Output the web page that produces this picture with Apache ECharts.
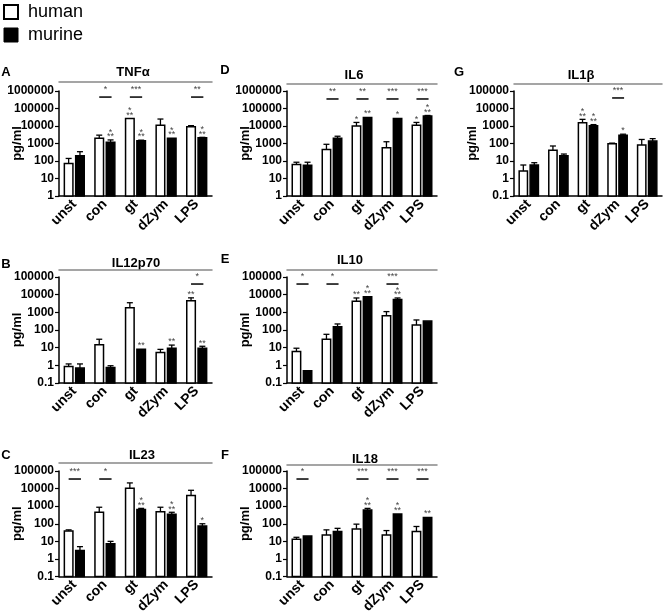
<!DOCTYPE html>
<html><head><meta charset="utf-8">
<script src="https://cdn.jsdelivr.net/npm/echarts@6/dist/echarts.min.js"></script>
<style>html,body{margin:0;padding:0;background:#fff}#c{width:667px;height:616px}</style>
</head><body><div id="c"></div><script>
const categories = ['unst', 'con', 'gt', 'dZym', 'LPS'];
const seriesNames = ['human', 'murine'];

// A TNFα
const tnfHuman = [73, 2000, 27000, 11000, 9000];
const tnfHumanErr = [140, 3000, 27000, 25000, 10500];
const tnfMurine = [200, 1170, 1450, 2000, 2100];
const tnfMurineErr = [340, 1600, 1550, 2100, 2250];
const tnfHumanStars = ['', '', '*\n**', '', ''];
const tnfMurineStars = ['', '*\n**', '*\n**', '*\n**', '*\n**'];
const tnfBrackets = ['', '*', '***', '', '**'];

// D IL6
const il6Human = [63, 460, 10000, 580, 11000];
const il6HumanErr = [85, 900, 16000, 1260, 16000];
const il6Murine = [57, 2000, 31000, 27000, 37000];
const il6MurineErr = [85, 2600, 33000, 28500, 40000];
const il6HumanStars = ['', '', '*', '', '*'];
const il6MurineStars = ['', '', '**', '*', '*\n**'];
const il6Brackets = ['', '**', '**', '***', '***'];

// G IL1β
const il1bHuman = [2.7, 41, 1550, 98, 82];
const il1bHumanErr = [5.9, 72, 2400, 105, 170];
const il1bMurine = [5.9, 20, 1050, 300, 137];
const il1bMurineErr = [8, 25, 1200, 340, 190];
const il1bHumanStars = ['', '', '*\n**', '', ''];
const il1bMurineStars = ['', '', '*\n**', '*', ''];
const il1bBrackets = ['', '', '', '***', ''];

// B IL12p70
const il12Human = [0.87, 14.4, 1800, 5.3, 4500];
const il12HumanErr = [1.2, 30, 3500, 8, 6600];
const il12Murine = [0.7, 0.76, 8.2, 9.3, 9.3];
const il12MurineErr = [1.2, 0.95, 8.6, 14, 12];
const il12HumanStars = ['', '', '', '', '**'];
const il12MurineStars = ['', '', '**', '**', '**'];
const il12Brackets = ['', '', '', '', '*'];

// E IL10
const il10Human = [6.0, 30, 4300, 650, 190];
const il10HumanErr = [9.3, 57, 6500, 1100, 370];
const il10Murine = [0.5, 155, 7500, 5400, 320];
const il10MurineErr = [0.5, 220, 8000, 6500, 340];
const il10HumanStars = ['', '', '**', '', ''];
const il10MurineStars = ['', '', '*\n**', '*\n**', ''];
const il10Brackets = ['*', '*', '', '***', ''];

// C IL23
const il23Human = [39, 450, 10400, 480, 4000];
const il23HumanErr = [45, 870, 21000, 870, 8000];
const il23Murine = [3.0, 7.2, 650, 350, 75];
const il23MurineErr = [5, 10, 750, 450, 100];
const il23HumanStars = ['', '', '', '', ''];
const il23MurineStars = ['', '', '*\n**', '*\n**', '*'];
const il23Brackets = ['***', '*', '', '', ''];

// F IL18
const il18Human = [13, 23, 51, 23, 36];
const il18HumanErr = [17, 45, 95, 41, 70];
const il18Murine = [20, 36, 610, 360, 225];
const il18MurineErr = [20, 55, 750, 380, 240];
const il18HumanStars = ['', '', '', '', ''];
const il18MurineStars = ['', '', '*\n**', '*\n**', '**'];
const il18Brackets = ['*', '', '***', '***', '***'];

const FONT = 'Liberation Sans, Arial, Helvetica, sans-serif';

const panels = [
  {letter:'A', title:'TNFα', h:tnfHuman, he:tnfHumanErr, m:tnfMurine, me:tnfMurineErr, hs:tnfHumanStars, ms:tnfMurineStars, br:tnfBrackets,
   yMin:1, yMax:1e6, brLevel:4.5e5, grid:{left:59, top:91, width:153, height:105}, lineOff:9, tx:133, ty:72, lx:6, ly:72},
  {letter:'D', title:'IL6', h:il6Human, he:il6HumanErr, m:il6Murine, me:il6MurineErr, hs:il6HumanStars, ms:il6MurineStars, br:il6Brackets,
   yMin:1, yMax:1e6, brLevel:3.5e5, grid:{left:287, top:91, width:150, height:105}, lineOff:7, tx:354, ty:75, lx:225, ly:70},
  {letter:'G', title:'IL1β', h:il1bHuman, he:il1bHumanErr, m:il1bMurine, me:il1bMurineErr, hs:il1bHumanStars, ms:il1bMurineStars, br:il1bBrackets,
   yMin:0.1, yMax:1e5, brLevel:4e4, grid:{left:514, top:91, width:148, height:105}, lineOff:7, tx:581, ty:75, lx:459, ly:72},
  {letter:'B', title:'IL12p70', h:il12Human, he:il12HumanErr, m:il12Murine, me:il12MurineErr, hs:il12HumanStars, ms:il12MurineStars, br:il12Brackets,
   yMin:0.1, yMax:1e5, brLevel:4e4, grid:{left:59, top:277, width:153, height:106}, lineOff:7, tx:136, ty:263, lx:6, ly:264},
  {letter:'E', title:'IL10', h:il10Human, he:il10HumanErr, m:il10Murine, me:il10MurineErr, hs:il10HumanStars, ms:il10MurineStars, br:il10Brackets,
   yMin:0.1, yMax:1e5, brLevel:4e4, grid:{left:287, top:277, width:150, height:106}, lineOff:7, tx:350, ty:260, lx:225, ly:259},
  {letter:'C', title:'IL23', h:il23Human, he:il23HumanErr, m:il23Murine, me:il23MurineErr, hs:il23HumanStars, ms:il23MurineStars, br:il23Brackets,
   yMin:0.1, yMax:1e5, brLevel:3.5e4, grid:{left:59, top:471, width:153, height:106}, lineOff:8, tx:142, ty:455, lx:6, ly:455},
  {letter:'F', title:'IL18', h:il18Human, he:il18HumanErr, m:il18Murine, me:il18MurineErr, hs:il18HumanStars, ms:il18MurineStars, br:il18Brackets,
   yMin:0.1, yMax:1e5, brLevel:3.5e4, grid:{left:287, top:471, width:150, height:106}, lineOff:6, tx:365, ty:459, lx:225, ly:455}
];

const OFF = 0.185, BW = 0.28;

function barSeries(p, gi, which) {
  const isH = which === 'human';
  const vals = isH ? p.h : p.m, errs = isH ? p.he : p.me, stars = isH ? p.hs : p.ms;
  const sign = isH ? -1 : 1;
  const fill = isH ? '#fff' : '#000';
  return {
    type: 'custom', name: which, xAxisIndex: gi * 2, yAxisIndex: gi,
    data: vals.map((v, i) => [i, v, errs[i]]),
    encode: {x: 0, y: 1},
    itemStyle: {color: fill, borderColor: '#000', borderWidth: 1.5},
    renderItem: function (params, api) {
      const i = api.value(0), v = api.value(1), e = api.value(2);
      const band = api.size([1, 0])[0];
      const c = api.coord([i, v]);
      const base = api.coord([i, p.yMin])[1];
      const cx = c[0] + sign * band * OFF;
      const w = band * BW;
      const top = c[1];
      const et = api.coord([i, e])[1];
      const ch = [];
      if (et < top - 0.5) {
        ch.push({type: 'line', shape: {x1: cx, y1: top, x2: cx, y2: et}, style: {stroke: '#000', lineWidth: 1.3}});
        ch.push({type: 'line', shape: {x1: cx - 3, y1: et, x2: cx + 3, y2: et}, style: {stroke: '#000', lineWidth: 1.3}});
      }
      ch.push({type: 'rect', shape: {x: cx - w / 2, y: top, width: w, height: base - top},
               style: {fill: fill, stroke: '#000', lineWidth: 1.5}});
      const s = stars[params.dataIndex];
      if (s) {
        ch.push({type: 'text', x: cx, y: Math.min(top, et) - 1,
                 style: {text: s, align: 'center', verticalAlign: 'bottom', font: '9px ' + FONT, fill: '#444', lineHeight: 4.5}});
      }
      return {type: 'group', children: ch};
    }
  };
}

function bracketSeries(p, gi) {
  const data = [];
  p.br.forEach((b, i) => { if (b) data.push([i, p.brLevel]); });
  return {
    type: 'custom', xAxisIndex: gi * 2, yAxisIndex: gi, silent: true,
    data: data, encode: {x: 0, y: 1},
    renderItem: function (params, api) {
      const i = api.value(0);
      const band = api.size([1, 0])[0];
      const c = api.coord([i, api.value(1)]);
      const x1 = c[0] - band * OFF, x2 = c[0] + band * OFF + 1;
      return {type: 'group', children: [
        {type: 'line', shape: {x1: x1, y1: c[1], x2: x2, y2: c[1]}, style: {stroke: '#000', lineWidth: 1.5}},
        {type: 'text', x: (x1 + x2) / 2, y: c[1] - 3,
         style: {text: p.br[i], align: 'center', verticalAlign: 'bottom', font: '9px ' + FONT, fill: '#444'}}
      ]};
    }
  };
}

const grids = [], xAxes = [], yAxes = [], series = [], graphics = [];
panels.forEach((p, gi) => {
  grids.push(Object.assign({containLabel: false}, p.grid));
  xAxes.push({
    gridIndex: gi, type: 'category', data: categories, boundaryGap: true,
    axisLine: {lineStyle: {color: '#000', width: 1.5}},
    axisTick: {alignWithLabel: true, length: 4, lineStyle: {color: '#000', width: 1.2}},
    axisLabel: {rotate: 45, interval: 0, margin: 6, color: '#000', fontWeight: 'bold', fontSize: 14, fontFamily: FONT},
    splitLine: {show: false}
  });
  xAxes.push({
    gridIndex: gi, type: 'value', position: 'top', offset: p.lineOff, min: 0, max: 1,
    axisLine: {show: true, lineStyle: {color: '#888', width: 1.5}},
    axisTick: {show: false}, axisLabel: {show: false}, splitLine: {show: false}
  });
  yAxes.push({
    gridIndex: gi, type: 'log', logBase: 10, min: p.yMin, max: p.yMax,
    name: 'pg/ml', nameLocation: 'middle', nameGap: 35, nameMoveOverlap: false,
    nameTextStyle: {color: '#000', fontWeight: 'bold', fontSize: 13, fontFamily: FONT},
    axisLine: {show: true, lineStyle: {color: '#000', width: 1.5}},
    axisTick: {show: true, length: 4, lineStyle: {color: '#000', width: 1.2}},
    minorTick: {show: false},
    axisLabel: {color: '#000', fontWeight: 'bold', fontSize: 12, fontFamily: FONT, margin: 5,
      formatter: v => v >= 1 ? String(Math.round(v)) : String(+v.toPrecision(1))},
    splitLine: {show: false}
  });
  series.push(barSeries(p, gi, 'human'));
  series.push(barSeries(p, gi, 'murine'));
  series.push(bracketSeries(p, gi));
  graphics.push({type: 'text', x: p.tx, y: p.ty,
    style: {text: p.title, align: 'center', verticalAlign: 'middle', font: 'bold 13px ' + FONT, fill: '#000'}});
  graphics.push({type: 'text', x: p.lx, y: p.ly,
    style: {text: p.letter, align: 'center', verticalAlign: 'middle', font: 'bold 13px ' + FONT, fill: '#000'}});
});

const chart = echarts.init(document.getElementById('c'), null, {renderer: 'canvas'});
chart.setOption({
  animation: false,
  backgroundColor: '#fff',
  legend: {
    orient: 'vertical', left: 3, top: 3, padding: 0, itemWidth: 14, itemHeight: 14, itemGap: 5, selectedMode: false,
    textStyle: {fontSize: 18, color: '#000', fontFamily: FONT, padding: [0, 0, 0, 5]},
    data: [
      {name: seriesNames[0], icon: 'rect', itemStyle: {color: '#fff', borderColor: '#000', borderWidth: 2}},
      {name: seriesNames[1], icon: 'rect', itemStyle: {color: '#000', borderColor: '#000', borderWidth: 1}}
    ]
  },
  grid: grids, xAxis: xAxes, yAxis: yAxes, series: series, graphic: graphics
});
</script></body></html>
